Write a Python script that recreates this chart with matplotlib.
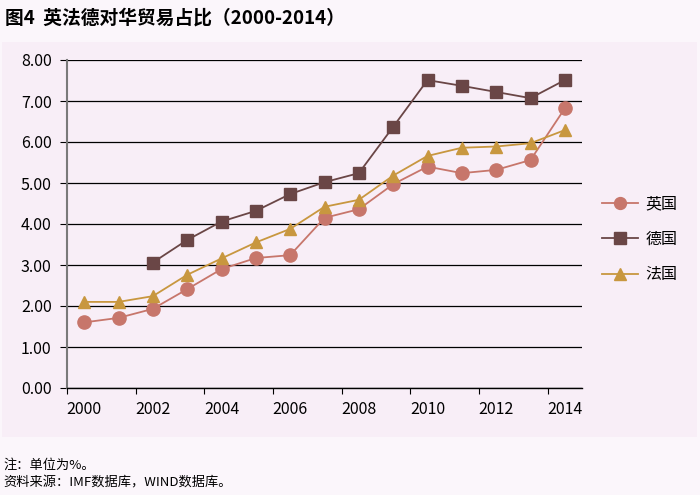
import matplotlib
matplotlib.use("Agg")
import matplotlib.pyplot as plt
from matplotlib.patches import Rectangle

plt.rcParams['font.family'] = ['Noto Sans CJK SC', 'DejaVu Sans']

years = list(range(2000, 2015))
year_labels = [str(y) for y in years[::2]]
uk = [1.60, 1.71, 1.93, 2.41, 2.90, 3.17, 3.24, 4.15, 4.36, 4.97, 5.40, 5.24, 5.32, 5.56, 6.82]
de = [None, None, 3.06, 3.61, 4.06, 4.32, 4.73, 5.02, 5.24, 6.37, 7.51, 7.37, 7.22, 7.07, 7.51]
fr = [2.10, 2.10, 2.24, 2.76, 3.16, 3.55, 3.88, 4.42, 4.59, 5.18, 5.66, 5.86, 5.89, 5.97, 6.29]

c_uk = '#c7766b'
c_de = '#6a4646'
c_fr = '#c8973f'
bg = '#f8eef7'

fig = plt.figure(figsize=(7, 4.95), dpi=100)
fig.patch.set_facecolor('#fbf6fb')
fig.patches.append(Rectangle((2 / 700, 1 - 437 / 495), 695 / 700, 395 / 495,
                             transform=fig.transFigure, facecolor=bg,
                             edgecolor='none', zorder=-5))

ax = fig.add_axes([67 / 700, 1 - 388 / 495, 515 / 700, 328 / 495])
ax.set_facecolor(bg)

x = list(range(len(years)))
de_x = [i for i, v in zip(x, de) if v is not None]
de_y = [v for v in de if v is not None]

ax.plot(x, uk, color=c_uk, lw=1.3, marker='o', ms=9.5, label='英国', zorder=3)
ax.plot(de_x, de_y, color=c_de, lw=1.3, marker='s', ms=9, label='德国', zorder=3)
ax.plot(x, fr, color=c_fr, lw=1.3, marker='^', ms=9, label='法国', zorder=3)

ax.set_xlim(-0.5, len(years) - 0.5)
ax.set_ylim(0, 8)
ax.set_yticks([i for i in range(9)])
ax.set_yticklabels(['%.2f' % i for i in range(9)], fontsize=11.5)
ax.yaxis.grid(True, color='black', lw=0.9)
ax.set_axisbelow(True)

ax.set_xticks([i - 0.5 for i in range(0, len(years), 2)])
ax.set_xticklabels([])
ax.set_xticks(x[::2], minor=True)
ax.set_xticklabels(year_labels, minor=True, fontsize=11.5)
ax.tick_params(axis='x', which='major', length=4, color='black')
ax.tick_params(axis='x', which='minor', length=0, pad=9)
ax.tick_params(axis='y', length=5, color='black', pad=6)

for s in ['top', 'right']:
    ax.spines[s].set_visible(False)
ax.spines['left'].set_color('#7a7a7a')
ax.spines['left'].set_linewidth(1.5)
ax.spines['bottom'].set_color('black')
ax.spines['bottom'].set_linewidth(1.0)

fig.legend(loc='upper left', bbox_to_anchor=(588 / 700, 1 - 181 / 495),
           frameon=False, fontsize=11.5, handlelength=2.2, labelspacing=1.15,
           handletextpad=0.5, markerscale=0.9)

fig.text(5 / 700, 1 - 18 / 495, '图4  英法德对华贸易占比（2000-2014）',
         fontsize=13.5, fontweight='bold', va='center', ha='left')
fig.text(3 / 700, 1 - 465 / 495, '注：单位为%。', fontsize=9.5,
         va='center', ha='left')
fig.text(3 / 700, 1 - 483 / 495, '资料来源：IMF数据库，WIND数据库。', fontsize=9.5,
         va='center', ha='left')

fig.savefig('out.png', dpi=100, facecolor=fig.get_facecolor())
